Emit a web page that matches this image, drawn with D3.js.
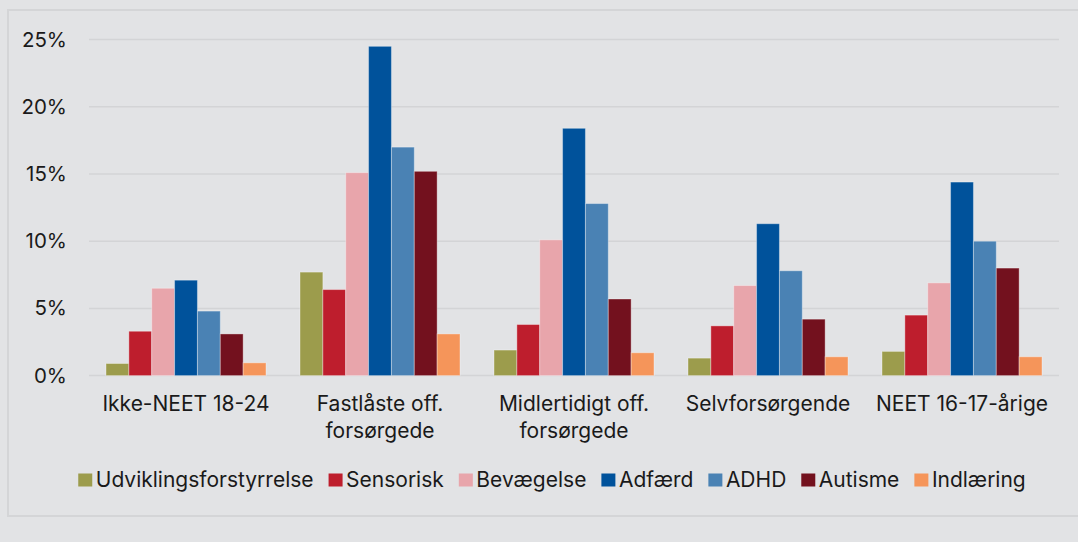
<!DOCTYPE html>
<html>
<head>
<meta charset="utf-8">
<script src="https://cdn.jsdelivr.net/npm/d3@7"></script>
<style>
  html, body { margin: 0; padding: 0; background: #e2e3e5; }
  svg { display: block; font-family: Inter, "Noto Sans", sans-serif; }
</style>
</head>
<body>
<div id="chart"></div>
<script>
const categories = [
    ["Ikke-NEET 18-24"],
    ["Fastlåste off.", "forsørgede"],
    ["Midlertidigt off.", "forsørgede"],
    ["Selvforsørgende"],
    ["NEET 16-17-årige"]
];
const seriesNames = ["Udviklingsforstyrrelse", "Sensorisk", "Bevægelse", "Adfærd", "ADHD", "Autisme", "Indlæring"];
const seriesColors = ["#9c9c4c", "#be1e2d", "#e8a5ab", "#00529b", "#4a82b4", "#73111e", "#f5955a"];
// values in percent, one array per series, in category order
const udvikling = [0.9, 7.7, 1.9, 1.3, 1.8];
const sensorisk = [3.3, 6.4, 3.8, 3.7, 4.5];
const bevaegelse = [6.5, 15.1, 10.1, 6.7, 6.9];
const adfaerd = [7.1, 24.5, 18.4, 11.3, 14.4];
const adhd = [4.8, 17.0, 12.8, 7.8, 10.0];
const autisme = [3.1, 15.2, 5.7, 4.2, 8.0];
const indlaering = [0.95, 3.1, 1.7, 1.4, 1.4];
const yTicks = [0, 5, 10, 15, 20, 25];

const seriesValues = [udvikling, sensorisk, bevaegelse, adfaerd, adhd, autisme, indlaering];

const W = 1078, H = 542;
const svg = d3.select("#chart").append("svg").attr("width", W).attr("height", H);

// outer frame
svg.append("rect").attr("x", 8).attr("y", 10).attr("width", 1080).attr("height", 506)
    .attr("fill", "#e2e3e5").attr("stroke", "#d4d5d7").attr("stroke-width", 2);

const catKeys = categories.map((d, i) => i);
const x = d3.scaleBand().domain(catKeys).range([89, 1059]).padding(0);
const xInner = d3.scaleBand().domain(seriesNames).range([0, x.bandwidth()]).paddingInner(0).paddingOuter(0.744);
const y = d3.scaleLinear().domain([0, 25]).range([375.6, 39.6]);

// gridlines
svg.append("g").selectAll("line").data(yTicks).join("line")
    .attr("x1", 89).attr("x2", 1059)
    .attr("y1", d => y(d)).attr("y2", d => y(d))
    .attr("stroke", "#d3d4d6").attr("stroke-width", 1.5);

// y axis labels
const yAxis = d3.axisLeft(y).tickValues(yTicks).tickFormat(d => d + "%").tickSize(0).tickPadding(0);
const yG = svg.append("g").attr("transform", "translate(67,0)").call(yAxis);
yG.select(".domain").remove();
yG.selectAll("text").attr("fill", "#1a1a1a").style("font-size", "20.5px").style("font-family", "Inter, 'Noto Sans', sans-serif");

// bars
const groups = svg.append("g").selectAll("g").data(catKeys).join("g")
    .attr("transform", d => `translate(${x(d)},0)`);
groups.selectAll("rect")
    .data(ci => seriesNames.map((s, si) => ({ s, si, v: seriesValues[si][ci] })))
    .join("rect")
    .attr("x", d => xInner(d.s))
    .attr("width", xInner.bandwidth())
    .attr("y", d => y(d.v))
    .attr("height", d => y(0) - y(d.v))
    .attr("fill", d => seriesColors[d.si])
    .attr("stroke", "rgba(255,255,255,0.35)")
    .attr("stroke-width", 1);

// x axis labels
const xG = svg.append("g");
categories.forEach((lines, i) => {
    const cxl = x(i) + x.bandwidth() / 2;
    const t = xG.append("text")
        .attr("x", cxl)
        .attr("y", 411)
        .attr("text-anchor", "middle")
        .attr("fill", "#1a1a1a")
        .style("font-size", "21px");
    lines.forEach((ln, j) => {
        t.append("tspan").attr("x", cxl).attr("dy", j === 0 ? 0 : 27).text(ln);
    });
});

// legend
const legend = svg.append("g");
let cx = 0;
seriesNames.forEach((name, i) => {
    const g = legend.append("g");
    g.append("rect").attr("x", 0).attr("y", -7).attr("width", 14).attr("height", 13).attr("fill", seriesColors[i]);
    const txt = g.append("text").attr("x", 17.5).attr("y", 6.5)
        .attr("fill", "#1a1a1a").style("font-size", "21px").text(name);
    const w = 17.5 + txt.node().getComputedTextLength();
    g.attr("transform", `translate(${cx},0)`);
    cx += w + 15;
});
const totalW = cx - 15;
legend.attr("transform", `translate(${552 - totalW / 2},480.5)`);
</script>
</body>
</html>
